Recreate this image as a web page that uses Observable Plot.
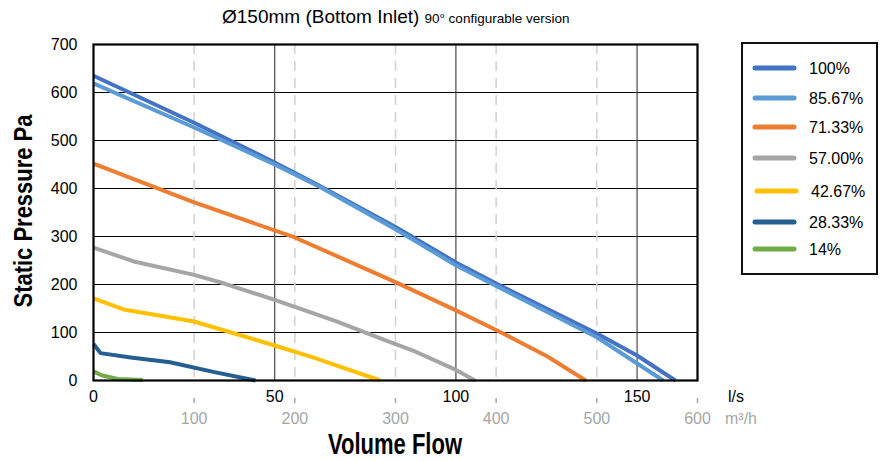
<!DOCTYPE html>
<html>
<head>
<meta charset="utf-8">
<script src="https://cdn.jsdelivr.net/npm/d3@7"></script>
<script src="https://cdn.jsdelivr.net/npm/@observablehq/plot@0.6"></script>
<style>
  html, body { margin: 0; padding: 0; background: #fff; }
  #chart { position: relative; width: 885px; height: 461px; }
</style>
</head>
<body>
<div id="chart"></div>
<script>
// ---- data (flow in m³/h, static pressure in Pa) ----
const seriesNames = ["100%", "85.67%", "71.33%", "57.00%", "42.67%", "28.33%", "14%"];
const seriesColors = ["#4472C4", "#5B9BD5", "#ED7D31", "#A5A5A5", "#FFC000", "#255E91", "#70AD47"];

const curve100 = [[0, 635], [100, 537], [180, 454], [225, 405], [300, 320], [360, 246], [400, 202], [500, 98], [540, 52], [578, 0]];
const curve8567 = [[0, 619], [100, 527], [180, 450], [225, 403], [300, 315], [360, 240], [400, 197], [500, 90], [566, 0]];
const curve7133 = [[0, 452], [100, 371], [200, 298], [300, 205], [360, 146], [407, 98], [451, 50], [489, 0]];
const curve5700 = [[0, 277], [40, 248], [100, 220], [130, 202], [180, 168], [240, 124], [285, 88], [320, 60], [360, 22], [379, 0]];
const curve4267 = [[0, 171], [30, 148], [100, 123], [180, 73], [218, 48], [285, 0]];
const curve2833 = [[0, 76], [7, 57], [37, 48], [76, 38], [119, 18], [161, 0]];
const curve1400 = [[0, 19], [8, 11], [24, 3], [49, 1]];
const curves = [curve100, curve8567, curve7133, curve5700, curve4267, curve2833, curve1400];

const yTicks = [0, 100, 200, 300, 400, 500, 600, 700];
const lsTicks = [0, 50, 100, 150];               // l/s
const m3hTicks = [100, 200, 300, 400, 500, 600]; // m³/h
const M3H_PER_LS = 3.6;

const rows = curves.flatMap((c, i) => c.map(([flow, pa]) => ({series: seriesNames[i], flow, pa})));

const font = "'Liberation Sans', Arial, Helvetica, sans-serif";

const chart = Plot.plot({
  width: 885,
  height: 461,
  marginLeft: 93,
  marginRight: 188,
  marginTop: 44,
  marginBottom: 81,
  style: {fontFamily: font, fontSize: "16px", color: "#000", background: "#fff", overflow: "visible"},
  x: {domain: [0, 600], axis: null},
  y: {domain: [0, 700], axis: null},
  color: {domain: seriesNames, range: seriesColors},
  marks: [
    Plot.ruleY(yTicks.filter(d => d > 0 && d < 700), {stroke: "#000", strokeWidth: 1.2}),
    Plot.ruleX(m3hTicks.filter(d => d < 600), {stroke: "#d4d4d4", strokeWidth: 1.6, strokeDasharray: "10,7"}),
    Plot.ruleX(lsTicks.filter(d => d > 0).map(d => d * M3H_PER_LS), {stroke: "#4a4a4a", strokeWidth: 1.2}),
    Plot.line(rows, {x: "flow", y: "pa", z: "series", stroke: "series", strokeWidth: 4, strokeLinejoin: "round", strokeLinecap: "butt"}),
    Plot.frame({stroke: "#000", strokeWidth: 2.2}),
    Plot.axisY(yTicks, {label: null, tickSize: 0, tickPadding: 16, fontSize: 16}),
    Plot.axisX(lsTicks.map(d => d * M3H_PER_LS), {label: null, tickSize: 0, tickPadding: 10, fontSize: 16, tickFormat: d => String(Math.round(d / M3H_PER_LS))}),
    Plot.axisX(m3hTicks, {label: null, tickSize: 23, tickPadding: 9, fontSize: 16, color: "#a6a6a6", tickFormat: d => String(d)})
  ]
});

document.getElementById("chart").appendChild(chart);

const svg = d3.select(chart);
// short grey tick dashes under the axis
svg.selectAll('g[aria-label="x-axis tick"]').attr("stroke-dasharray", "0,18,5,100").attr("stroke-width", 1.5);

// ---- overlay texts: title, axis titles, units, legend ----
const g = svg.append("g").attr("text-anchor", "start");

const title = g.append("text").attr("x", 222).attr("y", 23)
  .attr("font-family", font).attr("fill", "#000");
title.append("tspan").attr("font-size", 19).text("Ø150mm (Bottom Inlet)");
title.append("tspan").attr("font-size", 13.5).attr("dx", 5).text("90° configurable version");

g.append("text").attr("transform", "translate(32,211) rotate(-90)")
  .attr("text-anchor", "middle").attr("font-family", font).attr("font-weight", "bold")
  .attr("font-size", 26).attr("textLength", 193).attr("lengthAdjust", "spacingAndGlyphs")
  .text("Static Pressure Pa");

g.append("text").attr("x", 395).attr("y", 454)
  .attr("text-anchor", "middle").attr("font-family", font).attr("font-weight", "bold")
  .attr("font-size", 29).attr("textLength", 134).attr("lengthAdjust", "spacingAndGlyphs")
  .text("Volume Flow");

g.append("text").attr("x", 728).attr("y", 402).attr("font-family", font).attr("font-size", 16)
  .attr("fill", "#000").text("l/s");
g.append("text").attr("x", 725).attr("y", 424).attr("font-family", font).attr("font-size", 16)
  .attr("fill", "#a6a6a6").text("m³/h");

// legend
const legend = g.append("g");
legend.append("rect").attr("x", 742).attr("y", 43).attr("width", 135).attr("height", 231)
  .attr("fill", "#fff").attr("stroke", "#111").attr("stroke-width", 2);
const legendY = [68, 98, 127, 158, 191, 222, 249];
seriesNames.forEach((name, i) => {
  const off = name === "42.67%" ? 2 : 0;
  legend.append("line").attr("x1", 755 + off).attr("x2", 794 + off)
    .attr("y1", legendY[i]).attr("y2", legendY[i])
    .attr("stroke", seriesColors[i]).attr("stroke-width", 5).attr("stroke-linecap", "round");
  legend.append("text").attr("x", 809 + off).attr("y", legendY[i] + 6)
    .attr("font-family", font).attr("font-size", 16).attr("fill", "#000").text(name);
});
</script>
</body>
</html>
